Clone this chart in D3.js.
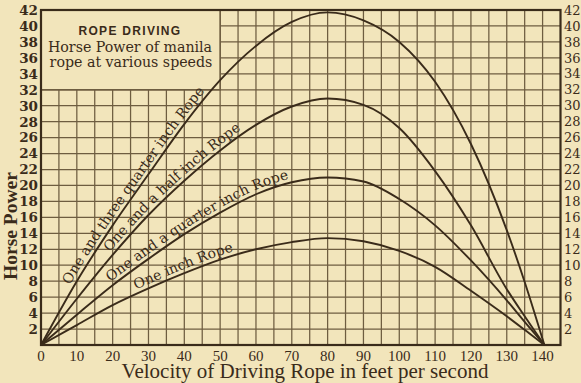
<!DOCTYPE html>
<html>
<head>
<meta charset="utf-8">
<script src="https://cdn.jsdelivr.net/npm/d3@7/dist/d3.min.js"></script>
<style>
  html, body { margin: 0; padding: 0; background: #f2e5bb; }
  svg { display: block; }
</style>
</head>
<body>
<svg id="chart" width="581" height="383"></svg>
<script>
// Rope velocity (feet per second) at which horse power was read
const velocity = [0, 10, 20, 30, 40, 50, 60, 70, 80, 90, 100, 110, 120, 130, 135, 140.5];

// Horse power transmitted by manila rope of each diameter
const hpOneThreeQuarter = [0, 8.0, 15.0, 21.4, 27.7, 33.2, 37.5, 40.5, 41.7, 40.7, 38.0, 33.0, 25.2, 14.4, 7.9, 0];
const hpOneHalf         = [0, 5.8, 11.3, 16.3, 20.6, 24.4, 27.6, 29.9, 30.9, 30.1, 27.2, 21.8, 15.0, 7.0, 3.6, 0];
const hpOneQuarter      = [0, 3.8, 7.5, 10.8, 13.9, 16.6, 18.9, 20.4, 21.0, 20.5, 18.3, 15.0, 10.6, 5.6, 2.9, 0];
const hpOneInch         = [0, 2.5, 5.0, 7.1, 9.0, 10.7, 12.0, 12.9, 13.4, 13.0, 11.8, 9.8, 6.8, 3.6, 1.9, 0];

const ropeNames = [
  "One and three quarter inch Rope",
  "One and a half inch Rope",
  "One and a quarter inch Rope",
  "One inch Rope"
];
// velocity along each curve where its name begins
const labelStartVelocity = [9, 20, 20, 27];

const xTickLabels = [0, 10, 20, 30, 40, 50, 60, 70, 80, 90, 100, 110, 120, 130, 140];
const yTickLabels = [2, 4, 6, 8, 10, 12, 14, 16, 18, 20, 22, 24, 26, 28, 30, 32, 34, 36, 38, 40, 42];

const titleLines = ["ROPE DRIVING", "Horse Power of manila", "rope at various speeds"];
const xTitle = "Velocity of Driving Rope in feet per second";
const yTitle = "Horse Power";

const series = [hpOneThreeQuarter, hpOneHalf, hpOneQuarter, hpOneInch];

const ink = "#3a2b1a";
const gridInk = "#6e5d40";
const paper = "#f2e5bb";

const svg = d3.select("#chart");
svg.append("rect").attr("width", 581).attr("height", 383).attr("fill", paper);

const x = d3.scaleLinear().domain([0, 145]).range([41, 560.5]);
const y = d3.scaleLinear().domain([0, 42]).range([345, 10]);

// ruled grid: every 5 ft/s and every 2 HP
const grid = svg.append("g").attr("stroke", gridInk).attr("stroke-width", 1.25);
grid.selectAll("line.v").data(d3.range(5, 145, 5)).join("line")
  .attr("x1", d => x(d)).attr("x2", d => x(d))
  .attr("y1", y(0)).attr("y2", y(42));
grid.selectAll("line.h").data(d3.range(2, 42, 2)).join("line")
  .attr("y1", d => y(d)).attr("y2", d => y(d))
  .attr("x1", x(0)).attr("x2", x(145));

// title panel in the upper-left corner, blanking the grid behind it
svg.append("rect")
  .attr("x", x(0)).attr("y", y(42))
  .attr("width", x(50) - x(0)).attr("height", y(32) - y(42))
  .attr("fill", paper);
svg.append("path")
  .attr("d", `M${x(0)},${y(32)}H${x(50)}V${y(42)}`)
  .attr("fill", "none").attr("stroke", gridInk).attr("stroke-width", 1.6);

// plot frame
svg.append("rect")
  .attr("x", x(0)).attr("y", y(42))
  .attr("width", x(145) - x(0)).attr("height", y(0) - y(42))
  .attr("fill", "none").attr("stroke", ink).attr("stroke-width", 2.2);

const panel = svg.append("g").attr("fill", ink).attr("text-anchor", "middle");
panel.append("text").attr("x", 130).attr("y", 35)
  .attr("font-family", "Liberation Sans, Arial, sans-serif").attr("font-weight", "bold")
  .attr("font-size", 12).attr("letter-spacing", 1.3).text(titleLines[0]);
panel.append("text").attr("x", 130).attr("y", 52)
  .attr("font-family", "DejaVu Serif, serif").attr("font-size", 14.2).text(titleLines[1]);
panel.append("text").attr("x", 131).attr("y", 67)
  .attr("font-family", "DejaVu Serif, serif").attr("font-size", 14.2).text(titleLines[2]);

// horse power curves
const line = d3.line()
  .x((d, i) => x(velocity[i]))
  .y(d => y(d))
  .curve(d3.curveMonotoneX);

const curves = svg.append("g").attr("fill", "none").attr("stroke", ink).attr("stroke-width", 1.9);
const paths = series.map((s, i) =>
  curves.append("path").attr("id", "rope" + i).attr("d", line(s)).node());

// curve names written along each curve, lifted just clear of the line
function lengthAtVelocity(pathNode, v) {
  const target = x(v);
  let lo = 0, hi = pathNode.getTotalLength();
  for (let k = 0; k < 40; k++) {
    const mid = (lo + hi) / 2;
    if (pathNode.getPointAtLength(mid).x < target) lo = mid; else hi = mid;
  }
  return lo;
}
const labels = svg.append("g").attr("fill", ink)
  .attr("font-family", "DejaVu Serif, serif").attr("font-size", 14);
ropeNames.forEach((name, i) => {
  labels.append("text")
    .append("textPath")
    .attr("href", "#rope" + i)
    .attr("startOffset", lengthAtVelocity(paths[i], labelStartVelocity[i]))
    .append("tspan").attr("dy", -4)
    .text(name);
});

// axis tick labels
const tickFont = "DejaVu Serif, serif";
svg.append("g").attr("fill", ink).attr("font-family", tickFont)
  .attr("font-size", 13.5).attr("font-weight", "bold").attr("text-anchor", "end")
  .selectAll("text").data(yTickLabels).join("text")
  .attr("x", 38).attr("y", d => y(d)).attr("dy", "0.36em").text(d => d);
svg.append("g").attr("fill", ink).attr("font-family", tickFont)
  .attr("font-size", 13).attr("text-anchor", "start")
  .selectAll("text").data(yTickLabels).join("text")
  .attr("x", 564).attr("y", d => y(d)).attr("dy", "0.36em").text(d => d);
svg.append("g").attr("fill", ink).attr("font-family", "Liberation Serif, serif")
  .attr("font-size", 15).attr("text-anchor", "middle")
  .selectAll("text").data(xTickLabels).join("text")
  .attr("x", d => x(d)).attr("y", 361).text(d => d);

// axis titles
svg.append("text").attr("x", 305).attr("y", 378).attr("text-anchor", "middle")
  .attr("fill", ink).attr("font-family", "Liberation Serif, serif").attr("font-size", 21)
  .text(xTitle);
svg.append("text").attr("transform", "translate(17,226) rotate(-90)")
  .attr("text-anchor", "middle").attr("fill", ink)
  .attr("font-family", "Liberation Serif, serif").attr("font-weight", "bold").attr("font-size", 19.5)
  .text(yTitle);
</script>
</body>
</html>
